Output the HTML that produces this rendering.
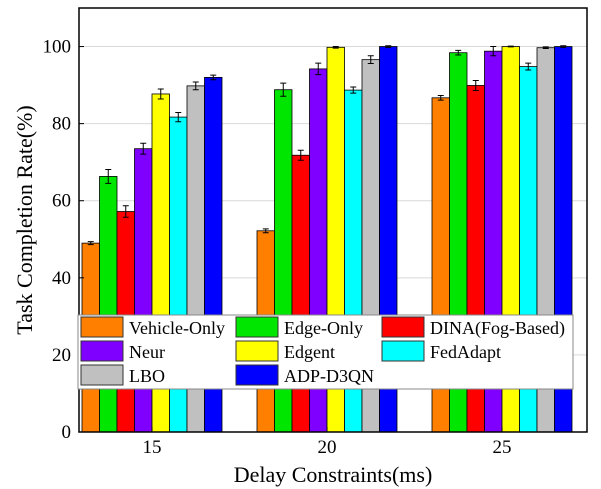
<!DOCTYPE html>
<html><head><meta charset="utf-8"><style>body{margin:0;background:#fff}svg{display:block}text{font-family:"Liberation Serif",serif;fill:#000}</style></head>
<body>
<svg id="c" width="601" height="489"></svg>
<script>
const categories=["15","20","25"];
const seriesNames=["Vehicle-Only","Edge-Only","DINA(Fog-Based)","Neur","Edgent","FedAdapt","LBO","ADP-D3QN"];
const colors=["#ff8000","#00e600","#ff0000","#8000ff","#ffff00","#00ffff","#c0c0c0","#0000ff"];
const s0=[49,52.2,86.7];
const s1=[66.3,88.8,98.4];
const s2=[57.2,71.8,89.9];
const s3=[73.5,94.2,98.8];
const s4=[87.7,99.8,100];
const s5=[81.7,88.7,94.8];
const s6=[89.8,96.6,99.7];
const s7=[92,100,100];
const errs=[[0.4,0.5,0.6],[1.8,1.7,0.6],[1.5,1.3,1.3],[1.4,1.5,1.2],[1.3,0.2,0.1],[1.2,0.8,0.9],[1,1,0.2],[0.6,0.2,0.2]];
const yTicks=[0,20,40,60,80,100];
const series=[s0,s1,s2,s3,s4,s5,s6,s7];
const L=79,R=587,T=8,B=432,yMax=110;
const y=v=>B-(v/yMax)*(B-T);
const cx=i=>152+i*175;
const bw=17.5;
const svg=document.getElementById('c');
const NS='http://www.w3.org/2000/svg';
function mk(tag,at,parent){const e=document.createElementNS(NS,tag);for(const k in at)e.setAttribute(k,at[k]);(parent||svg).appendChild(e);return e;}
yTicks.forEach(t=>{if(t>0){const g=mk('line',{x1:L,x2:R,y1:y(t),y2:y(t),stroke:'#d9d9d9','stroke-width':1});

}});
series.forEach((s,si)=>{s.forEach((v,ci)=>{
const x0=cx(ci)-4*bw+si*bw;
const r=mk('rect',{x:x0,y:y(v),width:bw,height:B-y(v),fill:colors[si],stroke:'#000','stroke-width':0.8});


const e=errs[si][ci],xm=x0+bw/2;
const eb=mk('path',{d:`M${xm} ${y(v+e)}V${y(v-e)}M${xm-3} ${y(v+e)}H${xm+3}M${xm-3} ${y(v-e)}H${xm+3}`,stroke:'#000','stroke-width':1,fill:'none'});


});});
const ax=mk('rect',{x:L,y:T,width:R-L,height:B-T,fill:'none',stroke:'#000','stroke-width':1.5});


yTicks.forEach(t=>{const l=mk('line',{x1:L,x2:L+5,y1:y(t),y2:y(t),stroke:'#000'});


const tx=mk('text',{x:L-8,y:y(t)+6,'text-anchor':'end','font-size':19});tx.textContent=t;

});
categories.forEach((c,i)=>{const l=mk('line',{x1:cx(i),x2:cx(i),y1:B,y2:B-5,stroke:'#000'});


const tx=mk('text',{x:cx(i),y:B+21,'text-anchor':'middle','font-size':19});tx.textContent=c;

});
const xt=mk('text',{x:333,y:482,'text-anchor':'middle','font-size':22});xt.textContent='Delay Constraints(ms)';


const yt=mk('text',{x:0,y:0,'text-anchor':'middle','font-size':22,transform:`translate(32,${(T+B)/2}) rotate(-90)`});yt.textContent='Task Completion Rate(%)';


const lg=mk('g',{});


mk('rect',{x:78,y:315,width:495,height:74,fill:'#fff',stroke:'#888','stroke-width':1},lg);
const colX=[81,236,382],rowY=[317,341,365];
seriesNames.forEach((n,i)=>{const c=i%3,r=Math.floor(i/3);
const g=mk('g',{},lg);


mk('rect',{x:colX[c],y:rowY[r],width:42,height:20,fill:colors[i],stroke:'#333','stroke-width':1},g);
const t=mk('text',{x:colX[c]+48,y:rowY[r]+17,'font-size':18},g);t.textContent=n;});
</script>
</body></html>
